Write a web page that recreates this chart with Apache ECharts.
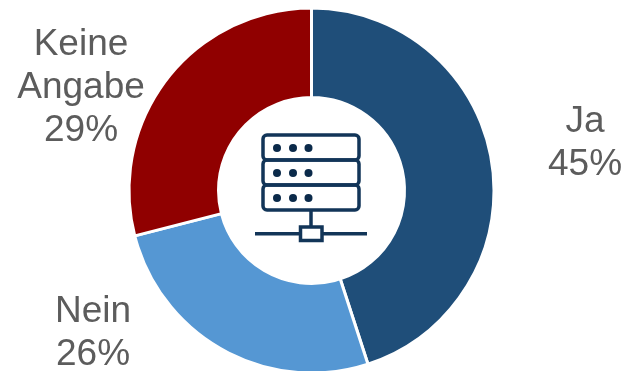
<!DOCTYPE html>
<html>
<head>
<meta charset="utf-8">
<style>html,body{margin:0;padding:0;background:#fff}#chart{width:628px;height:371px}</style>
<script src="https://cdn.jsdelivr.net/npm/echarts@6/dist/echarts.min.js"></script>
</head>
<body>
<div id="chart"></div>
<script>
// Survey answers, clockwise from twelve o'clock
const categories = ['Ja', 'Nein', 'Keine\nAngabe'];
const shares = [45, 26, 29];
const sliceColors = ['#1F4E79', '#5597D3', '#900000'];
const labelAnchors = [[585, 143], [93, 333], [81, 88]];

const ink = '#123558';
const strokeStyle = { stroke: ink, lineWidth: 3.5, fill: 'none' };

// Server rack with network line, drawn in the ring's hole
const rackRow = (y, dotsY) => [
  { type: 'rect', shape: { x: 263, y, width: 96, height: 25, r: 4 }, style: strokeStyle },
  ...[277, 293, 308.5].map(cx => ({
    type: 'circle', shape: { cx, cy: dotsY, r: 4 }, style: { fill: '#0B2A4A' }
  }))
];
const icon = [
  ...rackRow(135, 148), ...rackRow(160, 173), ...rackRow(185, 198),
  { type: 'line', shape: { x1: 311, y1: 210, x2: 311, y2: 227 }, style: strokeStyle },
  { type: 'line', shape: { x1: 255, y1: 233.7, x2: 300, y2: 233.7 }, style: strokeStyle },
  { type: 'line', shape: { x1: 322, y1: 233.7, x2: 367, y2: 233.7 }, style: strokeStyle },
  { type: 'rect', shape: { x: 300.5, y: 227, width: 21.5, height: 13.5 }, style: strokeStyle }
];

const chart = echarts.init(document.getElementById('chart'), null, { renderer: 'canvas' });
chart.setOption({
  animation: false,
  backgroundColor: '#fff',
  series: [{
    type: 'pie',
    center: [311.5, 190.5],
    radius: [93, 182.5],
    startAngle: 90,
    clockwise: true,
    silent: true,
    data: categories.map((name, i) => ({
      name,
      value: shares[i],
      itemStyle: { color: sliceColors[i], borderColor: '#fff', borderWidth: 3 }
    })),
    label: {
      show: true,
      position: 'outside',
      formatter: p => p.name + '\n' + p.value + '%',
      fontFamily: '"Liberation Sans", Arial, sans-serif',
      fontSize: 37,
      lineHeight: 43,
      color: '#5C5C5C',
      align: 'center',
      verticalAlign: 'middle',
      overflow: 'none'
    },
    labelLine: { show: false },
    labelLayout: params => ({
      x: labelAnchors[params.dataIndex][0],
      y: labelAnchors[params.dataIndex][1],
      align: 'center',
      verticalAlign: 'middle'
    })
  }],
  graphic: { elements: icon }
});
</script>
</body>
</html>
